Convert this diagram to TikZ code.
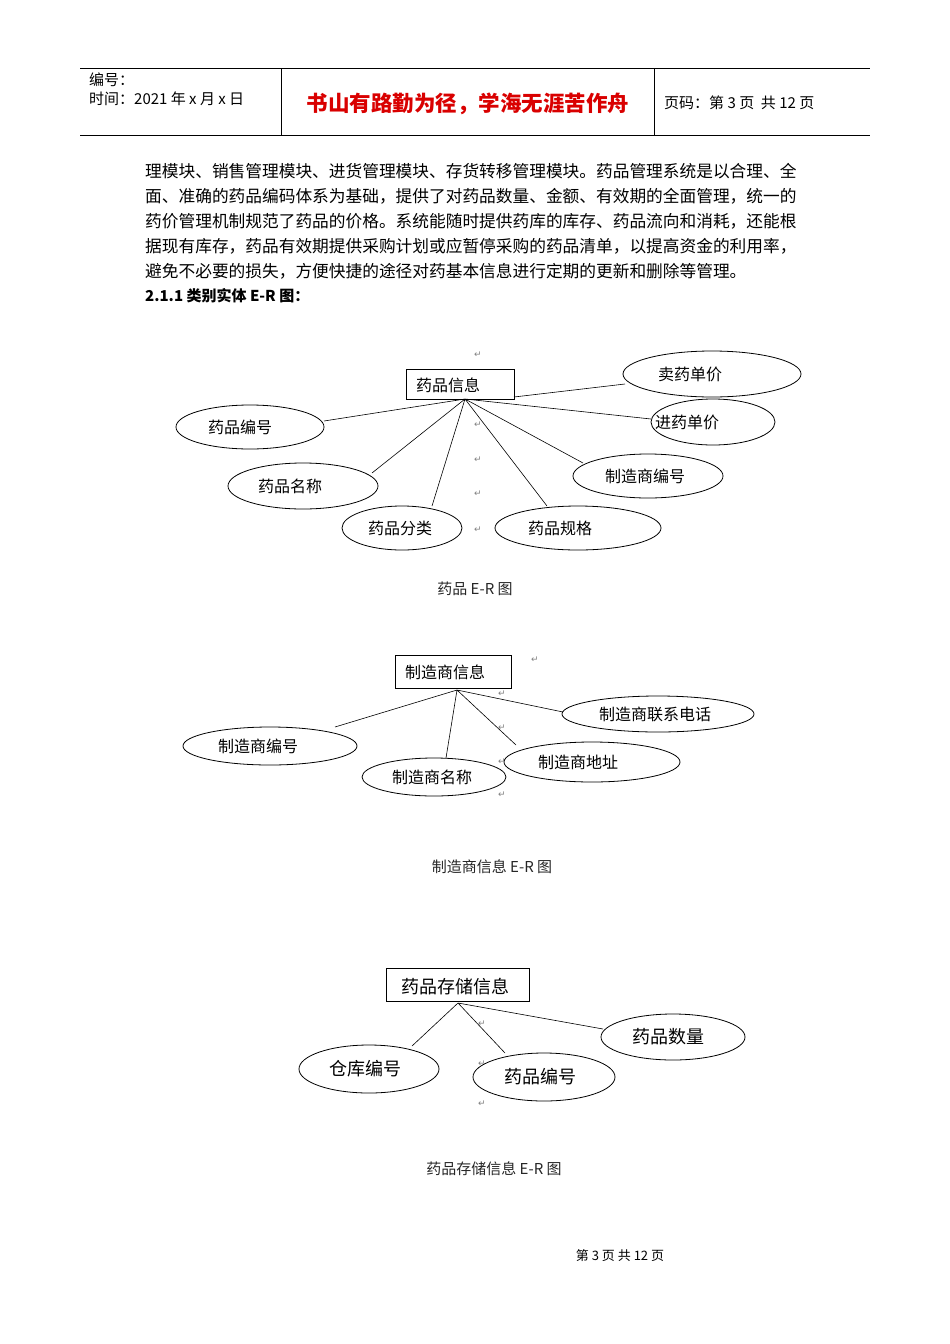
\documentclass[tikz,border=0pt]{standalone}
\usepackage{fontspec}
\setmainfont{Noto Sans CJK SC}
\newfontfamily\sym{DejaVu Sans}
\begin{document}
\begin{tikzpicture}[x=1pt,y=-1pt,
  att/.style={draw,line width=0.8pt},
  lbl/.style={font=\fontsize{16}{16}\selectfont},
  ln/.style={line width=0.6pt},
  rt/.style={font=\fontsize{9}{9}\sym,text=gray},
  body/.style={anchor=west,font=\fontsize{16.7}{16}\selectfont,inner sep=0pt},
  figcap/.style={font=\fontsize{15}{15}\selectfont,text=black!85}]
\useasboundingbox (0,0) rectangle (950,1344);
% header
\draw[line width=0.6pt] (80,68) -- (870,68) (80,135) -- (870,135) (281,68) -- (281,135) (654,68) -- (654,135);
\node[anchor=west,inner sep=0pt,font=\fontsize{15}{15}\selectfont] (h1) at (89,80) {编号：};
\node[anchor=west,inner sep=0pt,font=\fontsize{15}{15}\selectfont] (h2) at (89,99) {时间：2021 年 x 月 x 日};
\node[inner sep=0pt,font=\fontsize{21.5}{21}\selectfont\bfseries,text=red!85!black] (h3) at (468,104) {书山有路勤为径，学海无涯苦作舟};
\node[anchor=west,inner sep=0pt,font=\fontsize{15}{15}\selectfont] (h4) at (664,103) {页码：第 3 页\ \ 共 12 页};
% body
\node[body] (p1) at (145,171) {理模块、销售管理模块、进货管理模块、存货转移管理模块。药品管理系统是以合理、全};
\node[body] (p2) at (145,196) {面、准确的药品编码体系为基础，提供了对药品数量、金额、有效期的全面管理，统一的};
\node[body] (p3) at (145,221) {药价管理机制规范了药品的价格。系统能随时提供药库的库存、药品流向和消耗，还能根};
\node[body] (p4) at (145,246) {据现有库存，药品有效期提供采购计划或应暂停采购的药品清单，以提高资金的利用率，};
\node[body] (p5) at (145,271) {避免不必要的损失，方便快捷的途径对药基本信息进行定期的更新和删除等管理。};
\node[body,font=\fontsize{15}{15}\selectfont\bfseries] (hd) at (145,296) {2.1.1 类别实体 E-R 图：};
% diagram 1
\draw[line width=0.8pt] (406,369) rectangle (514,399);
\node[lbl] (e1) at (448,385) {药品信息};
\coordinate (c1) at (465,399);
\draw[att] (712,374) ellipse (89 and 23); \node[lbl] (a1) at (690,374) {卖药单价};
\draw[att] (713,422) ellipse (62 and 23); \node[lbl] (a2) at (687,422) {进药单价};
\draw[att] (250,427) ellipse (74 and 22); \node[lbl] (a3) at (240,427) {药品编号};
\draw[att] (303,486) ellipse (75 and 23); \node[lbl] (a4) at (290,486) {药品名称};
\draw[att] (648,476) ellipse (75 and 22); \node[lbl] (a5) at (645,476) {制造商编号};
\draw[att] (402,528) ellipse (60 and 22); \node[lbl] (a6) at (400,528) {药品分类};
\draw[att] (578,528) ellipse (83 and 22); \node[lbl] (a7) at (560,528) {药品规格};
\draw[ln] (514,397) -- (625,384);
\draw[ln] (c1) -- (324,421) (c1) -- (372,473) (c1) -- (432,506) (c1) -- (547,506) (c1) -- (583,463) (c1) -- (651,419);
\foreach \y in {355,425,460,494,530} \node[rt] at (478,\y) {↵};
\node[figcap] (k1) at (475,589) {药品 E-R 图};
% diagram 2
\draw[line width=0.8pt] (395,655) rectangle (511,688);
\node[lbl] (e2) at (445,672) {制造商信息};
\coordinate (c2) at (457,690);
\draw[att] (658,714) ellipse (96 and 18); \node[lbl] (b1) at (655,714) {制造商联系电话};
\draw[att] (270,746) ellipse (87 and 19); \node[lbl] (b2) at (258,746) {制造商编号};
\draw[att] (434,777) ellipse (72 and 19); \node[lbl] (b3) at (432,777) {制造商名称};
\draw[att] (592,762) ellipse (88 and 20); \node[lbl] (b4) at (578,762) {制造商地址};
\draw[ln] (c2) -- (335,727) (c2) -- (446,758) (c2) -- (516,745) (c2) -- (563,712);
\foreach \x/\y in {535/660,502/694,502/728,502/762,502/795} \node[rt] at (\x,\y) {↵};
\node[figcap] (k2) at (492,867) {制造商信息 E-R 图};
% diagram 3
\draw[line width=0.8pt] (386,968) rectangle (529,1001);
\node[lbl,font=\fontsize{18}{18}\selectfont] (e3) at (455,987) {药品存储信息};
\coordinate (c3) at (458,1003);
\draw[att] (673,1037) ellipse (72 and 23); \node[lbl,font=\fontsize{18}{18}\selectfont] (d1) at (668,1037) {药品数量};
\draw[att] (369,1069) ellipse (70 and 24); \node[lbl,font=\fontsize{18}{18}\selectfont] (d2) at (365,1069) {仓库编号};
\draw[att] (544,1077) ellipse (71 and 24); \node[lbl,font=\fontsize{18}{18}\selectfont] (d3) at (540,1077) {药品编号};
\draw[ln] (c3) -- (412,1046) (c3) -- (505,1053) (c3) -- (603,1029);
\foreach \y in {1024,1064,1104} \node[rt] at (482,\y) {↵};
\node[figcap] (k3) at (494,1169) {药品存储信息 E-R 图};
\node[font=\fontsize{13}{13}\selectfont] (ft) at (620,1256) {第 3 页 共 12 页};
\end{tikzpicture}
\end{document}
